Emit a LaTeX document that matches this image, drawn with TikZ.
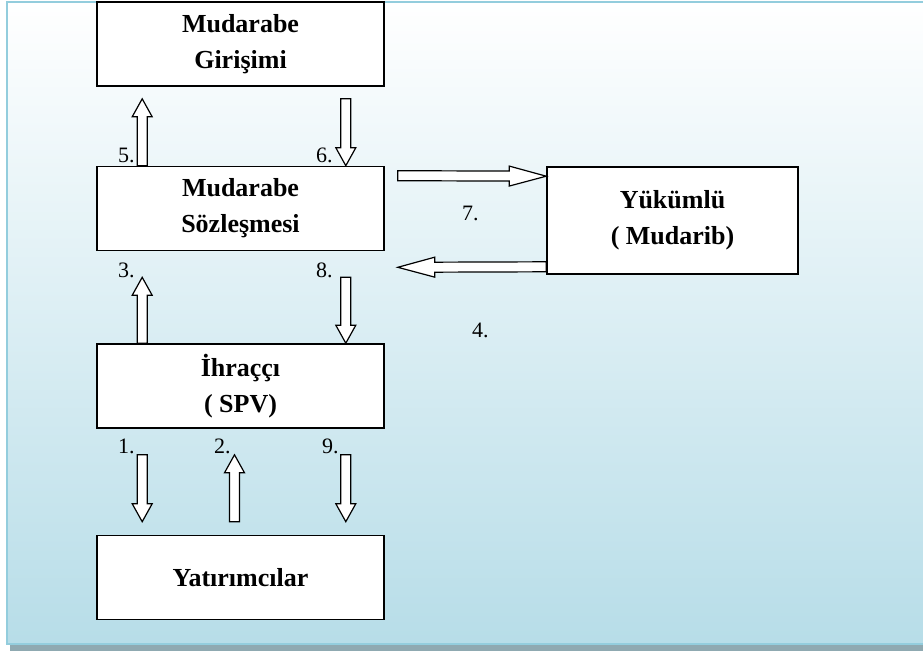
\documentclass[tikz,border=0pt]{standalone}
\usepackage{fontspec}
\setmainfont{Liberation Serif}
\usepackage{tikz}
\usetikzlibrary{calc, positioning}
\definecolor{bgblue}{HTML}{B7DDE8}
\definecolor{bgline}{HTML}{93CDDD}
\definecolor{bgshadow}{HTML}{8FA9B1}

\tikzset{
  box/.style={draw, line width=1.6pt, fill=white, minimum width=287pt, minimum height=84pt,
    align=center, inner sep=0pt, font=\fontsize{26}{36}\selectfont\bfseries},
  num/.style={inner sep=0pt, anchor=base west, font=\fontsize{22}{26}\selectfont},
  hollow/.style={draw, fill=white, line width=1.2pt, line join=miter}
}

% hollow block arrow from #2 to #3, #1 = head length
\newcommand{\hollowarrow}[3][18pt]{%
  \draw[hollow] let \p1=(#2), \p2=(#3), \n1={atan2(\y2-\y1,\x2-\x1)},
    \n2={veclen(\x2-\x1,\y2-\y1)-#1} in
    ($(\p1)+(\n1+90:5pt)$) -- ++(\n1:\n2) -- ++(\n1+90:5pt) -- (\p2)
    -- ($(\p1)+(\n1:\n2)+(\n1-90:10pt)$) -- ++(\n1+90:5pt)
    -- ($(\p1)+(\n1-90:5pt)$) -- cycle;}

\begin{document}
\begin{tikzpicture}[x=1pt, y=-1pt]
\useasboundingbox (0,0) rectangle (923,653);

\fill [bgshadow] (10,644) rectangle (930,651);
\shade [top color=white, bottom color=bgblue] (7,2) rectangle (930,644);
\draw [bgline, line width=2.5pt] (930,2) -- (7,2) -- (7,644) -- (930,644);

\node [box] (girisim) at (240.5,44) {Mudarabe\\Girişimi};
\node [box] (sozlesme) at (240.5,208.5) {Mudarabe\\Sözleşmesi};
\node [box] (ihracci) at (240.5,386) {İhraççı\\( SPV)};
\node [box] (yatirim) at (240.5,577.5) {Yatırımcılar};
\node [box, minimum width=251pt, minimum height=107pt] (yukumlu) at (672.5,220.5) {Yükümlü\\( Mudarib)};

\hollowarrow{$(sozlesme.north west)+(46,0)$}{$(girisim.south west)+(46,12)$}
\hollowarrow{$(girisim.south east)+(-39,12)$}{$(sozlesme.north east)+(-39,0)$}
\hollowarrow{$(ihracci.north west)+(46,0)$}{$(sozlesme.south west)+(46,26)$}
\hollowarrow{$(sozlesme.south east)+(-39,26)$}{$(ihracci.north east)+(-39,0)$}
\hollowarrow{$(ihracci.south west)+(46,26)$}{$(yatirim.north west)+(46,-13)$}
\hollowarrow{$(yatirim.north)+(-6,-13)$}{$(ihracci.south)+(-6,26)$}
\hollowarrow{$(ihracci.south east)+(-39,26)$}{$(yatirim.north east)+(-39,-13)$}
\hollowarrow[37pt]{$(sozlesme.north east)+(13,10)$}{$(yukumlu.north west)+(0,10)$}
\hollowarrow[37pt]{$(yukumlu.south west)+(0,-8)$}{$(sozlesme.south east)+(13,16)$}

\node [num] (nfive) at (118,162) {5.};
\node [num] (nsix) at (316,162) {6.};
\node [num] (nthree) at (118,277) {3.};
\node [num] (neight) at (316,277) {8.};
\node [num] (none) at (118,453) {1.};
\node [num] (ntwo) at (214,453) {2.};
\node [num] (nnine) at (322,453) {9.};
\node [num] (nseven) at (462,220) {7.};
\node [num] (nfour) at (472,337) {4.};
\end{tikzpicture}
\end{document}
